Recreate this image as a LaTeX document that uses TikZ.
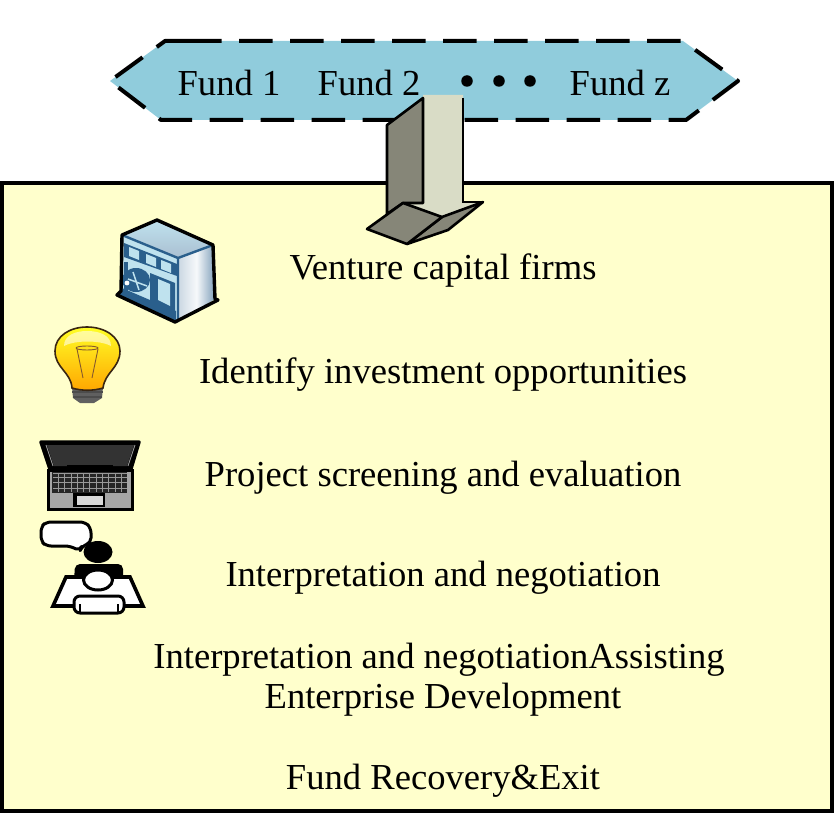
\documentclass[tikz,border=0pt]{standalone}
\usepackage{fontspec}
\setmainfont{Liberation Serif}
\definecolor{fundblue}{HTML}{90CCDC}
\definecolor{boxyellow}{HTML}{FFFFCC}
\definecolor{arrowdark}{HTML}{868678}
\definecolor{arrowlight}{HTML}{D9DCC6}
\definecolor{bldg}{HTML}{2A5F8C}
\definecolor{bldglight}{HTML}{BFE2EE}
\tikzset{
  x=1pt,y=-1pt,
  lbl/.style={font=\fontsize{36.6}{41}\selectfont,inner sep=0pt,anchor=base,text=black},
  arrowface/.style={draw=black,line width=2.6pt,line join=round},
  dotmark/.style={circle,fill=black,inner sep=0pt,minimum size=11.5pt},
  pane/.style={draw=none,fill=bldglight},
}
\begin{document}
\begin{tikzpicture}
\useasboundingbox (0,0) rectangle (835,813);
% fund band
\fill[fundblue] (165,41) -- (683,41) -- (738,81) -- (686,120) -- (161,120) -- (110,81) -- cycle;
\draw[line width=4pt,dash pattern=on 33.5pt off 17.5pt,line join=round]
  (188,41) -- (683,41) -- (738,81) -- (686,120) -- (161,120) -- (110,81) -- (165,41) -- (188,41);
\node[lbl] (f1) at (229,96) {Fund 1};
\node[lbl] (f2) at (369,96) {Fund 2};
\node[dotmark] (d1) at (467,81) {};
\node[dotmark] (d2) at (499,81) {};
\node[dotmark] (d3) at (530,81) {};
\node[lbl] (fz) at (620,96) {Fund z};
% main box
\node[draw=black,line width=4pt,fill=boxyellow,minimum width=830pt,minimum height=628pt,inner sep=0pt,outer sep=0pt,anchor=north west] (panel) at (2,183) {};
% labels
\node[lbl] (t1) at (443,279) {Venture capital firms};
\node[lbl] (t2) at (443,383) {Identify investment opportunities};
\node[lbl] (t3) at (443,486) {Project screening and evaluation};
\node[lbl] (t4) at (443,586) {Interpretation and negotiation};
\node[lbl] (t5) at (439,668) {Interpretation and negotiationAssisting};
\node[lbl] (t6) at (443,708) {Enterprise Development};
\node[lbl] (t7) at (443,789) {Fund Recovery\&Exit};
% block arrow
\fill[arrowlight] (423,95) -- (463,95) -- (463,203) -- (483,202) -- (442,217) -- (403,203) -- (423,203) -- cycle;
\draw[arrowface,fill=arrowdark] (423,98) -- (387,125) -- (387,214) -- (403,203) -- (423,203) -- cycle;
\draw[line width=2.6pt] (463,98) -- (463,202) -- (483,202);
\draw[arrowface,fill=arrowdark] (442,217) -- (483,202) -- (448,230) -- (407,244) -- cycle;
\draw[arrowface,fill=arrowdark] (367,229) -- (403,203) -- (442,217) -- (407,244) -- cycle;
% building
\begin{scope}
\shade[top color=bldglight,middle color=white,bottom color=bldg!40!white] (157,220) -- (213,245) -- (178,258) -- (122,235) -- cycle;
\shade[left color=bldg!25!white,right color=bldg!60!white,middle color=bldg!4!white] (178,258) -- (213,245) -- (215,299) -- (178,322) -- cycle;
\fill[bldglight] (122,235) -- (178,258) -- (178,322) -- (120,295) -- cycle;
\draw[bldg,line width=2.4pt] (122,235) -- (178,258) -- (213,245) (178,258) -- (178,322);
% window band
\fill[bldg] (124,243) -- (177,264) -- (177,276) -- (124,257) -- cycle;
\fill[pane] (129,247) -- (139,251) -- (139,260) -- (129,256) -- cycle;
\fill[pane] (146,254) -- (156,258) -- (156,267) -- (146,263) -- cycle;
\fill[pane] (161,260) -- (171,264) -- (171,273) -- (161,269) -- cycle;
% door
\fill[bldg] (150,273) -- (175,283) -- (175,313) -- (150,303) -- cycle;
\fill[pane] (158,279) -- (170,284) -- (170,306) -- (158,300) -- cycle;
% wheel
\fill[bldg] (136,280) ellipse[x radius=14pt,y radius=12pt];
\fill[bldg] (124,262) rectangle (128,292);
\draw[bldglight,line width=1.5pt] (128,279) -- (147,286) (133,272) -- (139,290);
\fill[white] (127,283) circle[radius=2.4pt];
% base
\fill[bldg] (122,288) -- (150,300) -- (176,311) -- (176,322) -- (118,296) -- cycle;
\draw[black,line width=3.4pt,line join=round] (157,220) -- (213,245) -- (215,299) -- (218,300) -- (175,322) -- (117,295) -- (121,291) -- (122,235) -- cycle;
\end{scope}
% bulb
\begin{scope}
\fill[gray!75!black] (72,387) -- (103,387) -- (102,398) -- (94,403) -- (80,403) -- (73,398) -- cycle;
\draw[black!70,line width=1.2pt] (72,392) -- (103,392) (73,397) -- (102,397);
\shade[top color=yellow!85!white,bottom color=orange!70!yellow,draw=black!70!brown,line width=1.6pt]
  (72,388) .. controls (71,372) and (55,368) .. (55,351) .. controls (55,336) and (70,327) .. (87,327)
  .. controls (105,327) and (120,337) .. (120,351) .. controls (120,368) and (105,372) .. (103,388)
  .. controls (93,391) and (82,391) .. (72,388) -- cycle;
\fill[white,opacity=.55] (64,346) .. controls (64,335) and (76,331) .. (87,331) .. controls (99,331) and (111,335) .. (111,346) .. controls (100,340) and (75,340) .. (64,346) -- cycle;
\draw[brown!70!black,line width=.9pt] (76,348) arc[start angle=180,end angle=540,x radius=11pt,y radius=2pt];
\draw[brown!70!black,line width=.9pt] (77,349) -- (83,378) (98,349) -- (92,378);
\end{scope}
% laptop
\begin{scope}
\draw[black,line width=3.5pt,fill=black,line join=round] (41,442) -- (139,442) -- (130,472) -- (51,472) -- cycle;
\fill[black!80] (47,445) -- (134,445) -- (127,466) -- (54,466) -- cycle;
\draw[gray!80,line width=.8pt] (46,445) -- (53,466) (135,445) -- (128,466);
\draw[black,line width=3pt,fill=gray!70] (48,470) rectangle (132,509);
\fill[black] (67,465) rectangle (113,472);
\fill[black!85] (52,472) rectangle (127,493);
\foreach \i in {1,...,11} \draw[gray!80,line width=.8pt] ({52+6.3*\i},473) -- ({52+6.3*\i},492);
\foreach \j in {473,477,482,488} \draw[gray!80,line width=.8pt] (53,\j) -- (127,\j);
\fill[black] (73,493) rectangle (105,507);
\fill[gray!30] (77,496) rectangle (103,505);
\end{scope}
% person
\begin{scope}
\draw[black,line width=3pt,fill=white,line join=round,rounded corners=5pt]
  (46,522) -- (85,522) -- (91,528) -- (91,543) -- (82,546) -- (80,551) -- (70,546) -- (46,546) -- (41,541) -- (41,527) -- cycle;
\fill[black] (98,552) ellipse[x radius=14.5pt,y radius=11pt];
\fill[black,rounded corners=5pt] (74,582) -- (75,564) -- (123,564) -- (123,582) -- cycle;
\draw[black,line width=3.6pt,fill=white,line join=miter] (66,577) -- (53,606) -- (143,606) -- (130,577) -- cycle;
\draw[black,line width=3pt,fill=white] (98,580) ellipse[x radius=14.5pt,y radius=10pt];
\draw[black,line width=3pt,fill=white,rounded corners=6pt] (74,613) -- (74,596) -- (124,596) -- (124,613) -- cycle;
\draw[black,line width=1.8pt] (80,604) -- (80,613) (118,604) -- (118,613);
\end{scope}
\end{tikzpicture}
\end{document}
